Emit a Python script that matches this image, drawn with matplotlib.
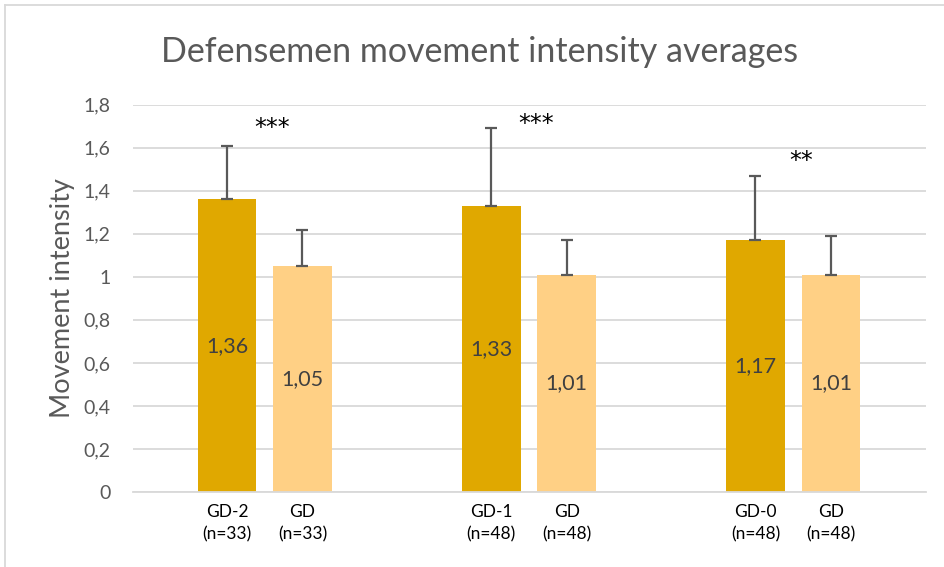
import numpy as np
import matplotlib.pyplot as plt
from matplotlib.lines import Line2D

# bar data
labels = ["GD-2\n(n=33)", "GD\n(n=33)", "GD-1\n(n=48)", "GD\n(n=48)", "GD-0\n(n=48)", "GD\n(n=48)"]
means = [1.36, 1.05, 1.33, 1.01, 1.17, 1.01]
errors = [0.25, 0.17, 0.36, 0.16, 0.30, 0.18]
value_labels = ["1,36", "1,05", "1,33", "1,01", "1,17", "1,01"]
stars = ["***", "***", "**"]
star_heights = [1.72, 1.74, 1.57]

dark = "#E0A800"
light = "#FFD085"
gray = "#595959"

plt.rcParams["font.family"] = ["Lato", "DejaVu Sans"]

pos = np.array([0, 1, 3.5, 4.5, 7, 8])
colors = [dark, light] * 3

fig = plt.figure(figsize=(9.44, 5.67), dpi=100)
ax = fig.add_axes([0.1409, 0.1323, 0.8401, 0.683])

ax.bar(pos, means, width=0.78, color=colors, zorder=2)
ax.errorbar(pos, means, yerr=[np.zeros(6), errors], fmt="none", ecolor=gray,
            elinewidth=1.6, capsize=4.5, capthick=1.6, zorder=3)

for x, m, t in zip(pos, means, value_labels):
    ax.text(x, m / 2, t, ha="center", va="center", fontsize=15.5, color="#404040", zorder=4)

for i, (s, h) in enumerate(zip(stars, star_heights)):
    x = (pos[2 * i] + pos[2 * i + 1]) / 2 + 0.1
    ax.text(x, h - 0.03, s, ha="center", va="center", fontsize=17, color="black",
            family="DejaVu Sans")

ax.set_ylim(0, 1.8)
ax.set_xlim(-1.245, 9.26)
ax.set_yticks(np.arange(0, 1.81, 0.2))
ax.set_yticklabels(["0", "0,2", "0,4", "0,6", "0,8", "1", "1,2", "1,4", "1,6", "1,8"])
ax.set_xticks(pos)
ax.set_xticklabels(labels, fontsize=12.5, color="black", linespacing=1.45)
ax.tick_params(axis="y", length=0, pad=16, labelsize=14, labelcolor=gray)
ax.tick_params(axis="x", length=0, pad=9)
ax.grid(axis="y", color="#D9D9D9", linewidth=1.3, zorder=0)
for side in ["top", "right", "left"]:
    ax.spines[side].set_visible(False)
ax.spines["bottom"].set_color("#D9D9D9")
ax.spines["bottom"].set_linewidth(1.3)

ax.set_ylabel("Movement intensity", fontsize=19.5, color=gray, labelpad=6)
fig.text(0.508, 0.908, "Defensemen movement intensity averages", ha="center", va="center",
         fontsize=24.5, color=gray)

# chart frame
fig.add_artist(Line2D([0.005, 1.0], [0.991, 0.991], color="#D9D9D9", lw=1.3))
fig.add_artist(Line2D([0.005, 0.005], [0.0, 0.991], color="#D9D9D9", lw=1.3))

fig.savefig("out.png", dpi=100)
